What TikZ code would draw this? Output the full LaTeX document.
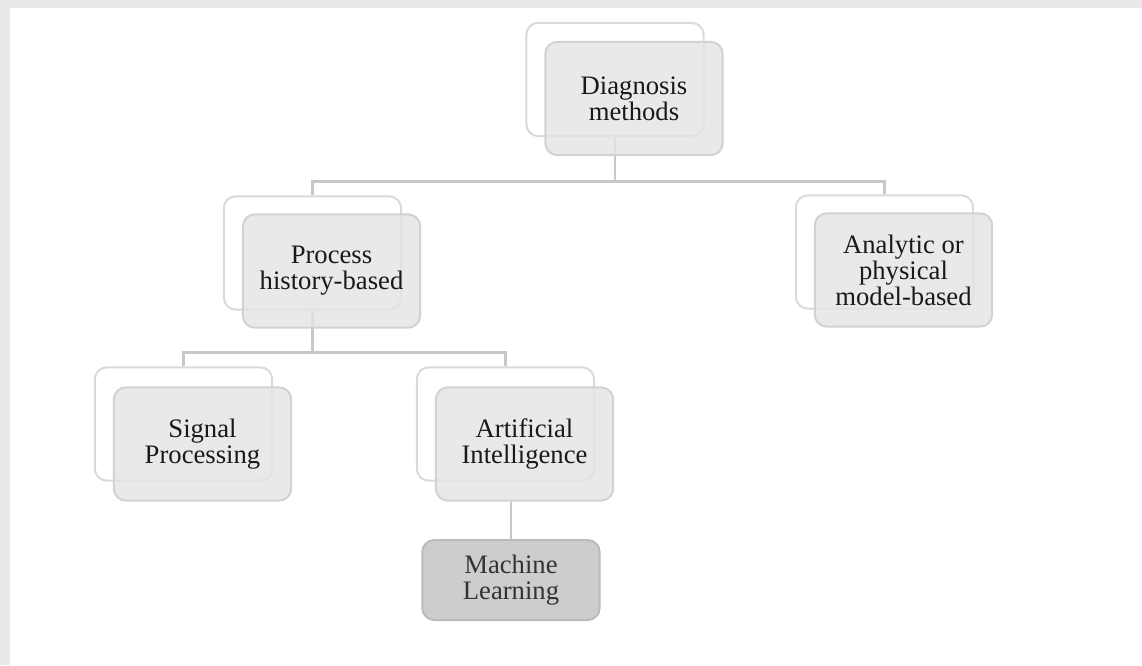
\documentclass[tikz,border=0pt]{standalone}
\usepackage{fontspec}
\setmainfont{Liberation Serif}
\newfontfamily\boxfont{Liberation Serif}
\usepackage{xcolor}
\usetikzlibrary{calc,positioning}

\definecolor{linegray}{HTML}{C8C8C8}
\definecolor{framegray}{HTML}{DADADA}
\definecolor{boxfill}{HTML}{E4E4E4}
\definecolor{boxedge}{HTML}{D2D2D2}
\definecolor{mlfill}{HTML}{CDCDCD}
\definecolor{mledge}{HTML}{BBBBBB}
\definecolor{edgenoise}{HTML}{E8E8E8}

\pgfdeclarelayer{bg}
\pgfsetlayers{bg,main}

\tikzset{
	backframe/.style={draw=framegray, line width=1.5pt, rounded corners=9pt,
		minimum width=133pt, minimum height=85pt},
	front/.style={draw=boxedge, fill=boxfill, fill opacity=0.82, text opacity=1,
		line width=1.5pt, rounded corners=9pt, minimum width=133pt, minimum height=85pt,
		align=center, text=black!90, font=\boxfont\fontsize{20}{19.5}\selectfont},
	leaf/.style={front, fill=mlfill, draw=mledge, fill opacity=1, minimum height=60pt, text=black!80},
	link/.style={draw=linegray, line width=2.2pt}
}

\begin{document}
\begin{tikzpicture}[x=0.75pt,y=-0.75pt]
		\useasboundingbox (0,0) rectangle (1142,665);
		\fill[edgenoise] (0,0) rectangle (1142,8);
		\fill[edgenoise] (0,0) rectangle (10,665);
		
		% back frames
		\node[backframe] (dmb) at (615,79.5) {};
		\node[backframe] (phbb) at (312.5,253) {};
		\node[backframe] (ambb) at (884.5,252) {};
		\node[backframe] (spb) at (183.5,424) {};
		\node[backframe] (aib) at (505.5,424) {};
		
		% boxes
		\node[front] (dm) at ($(dmb)+(19,19)$) {Diagnosis\\methods};
		\node[front] (phb) at ($(phbb)+(19,18)$) {Process\\history-based};
		\node[front] (amb) at ($(ambb)+(19,18)$) {Analytic or\\physical\\model-based};
		\node[front] (sp) at ($(spb)+(19,20)$) {Signal\\Processing};
		\node[front] (ai) at ($(aib)+(19,20)$) {Artificial\\Intelligence};
		\node[leaf] (ml) at (511,580) {Machine\\Learning};
		
		\begin{pgfonlayer}{bg}
		\coordinate (split1) at ($(dmb.south)+(0,44)$);
		\draw[link] (dmb.south) -- (split1);
		\draw[link] (phbb.north) |- (split1) -| (ambb.north);
		
		\coordinate (split2) at ($(phbb.south)+(0,42)$);
		\draw[link] (phbb.south) -- (split2);
		\draw[link] (spb.north) |- (split2) -| (aib.north);
		
		\draw[link] (ml.north) -- (ml.north |- ai.south);
		\end{pgfonlayer}
\end{tikzpicture}
\end{document}
